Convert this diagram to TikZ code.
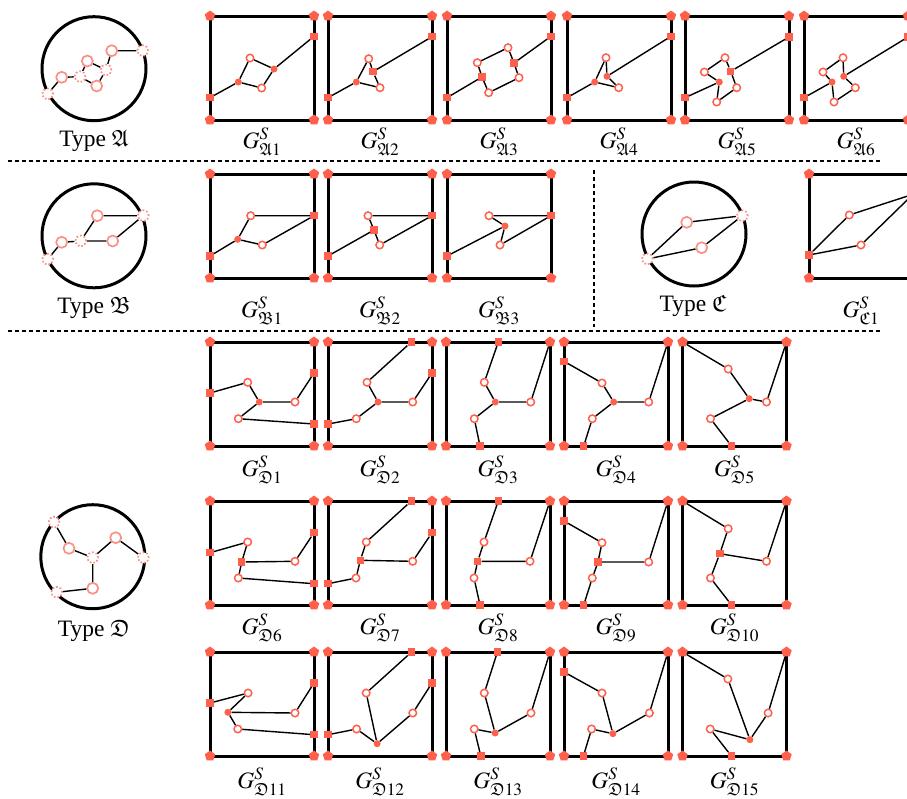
\documentclass[tikz,border=0pt]{standalone}
\usepackage{mathptmx}
\usepackage{amsfonts}
\usepackage{fontspec}
\setmainfont{Liberation Serif}
\usetikzlibrary{shapes.geometric}
\definecolor{tom}{RGB}{255,96,76}
\definecolor{sal}{RGB}{250,145,135}
\tikzset{
 crn/.style={regular polygon, regular polygon sides=5, fill=tom, inner sep=0pt, minimum size=11pt},
 trm/.style={rectangle, fill=tom, inner sep=0pt, minimum size=7.5pt},
 fcn/.style={circle, fill=tom, inner sep=0pt, minimum size=7pt},
 ocn/.style={circle, draw=tom, fill=white, line width=1.5pt, inner sep=0pt, minimum size=7.5pt},
 edg/.style={line width=1.4pt, black},
 frm/.style={line width=3pt, black, line join=miter},
 tcn/.style={circle, draw=sal, fill=white, line width=1.7pt, inner sep=0pt, minimum size=11pt},
 tdc/.style={tcn, dotted},
 bigc/.style={circle, draw=black, line width=3pt, inner sep=0pt, minimum size=104pt},
 lab/.style={anchor=base, inner sep=0pt, font=\fontsize{23.5}{28}\selectfont},
 dsh/.style={line width=1.3pt, dash pattern=on 4pt off 3pt},
}
\newcommand\gframe[1]{%
  \coordinate (#1-a) at (0,0);
  \coordinate (#1-b) at (104,0);
  \coordinate (#1-c) at (104,104);
  \coordinate (#1-d) at (0,104);
  \draw[frm] (#1-a) -- (#1-b) -- (#1-c) -- (#1-d) -- cycle;
  \node[crn] (#1-tl) at (0,0) {};
  \node[crn] (#1-tr) at (104,0) {};
  \node[crn] (#1-br) at (104,104) {};
  \node[crn] (#1-bl) at (0,104) {};
}
\begin{document}
\begin{tikzpicture}[x=1pt,y=-1pt]
\useasboundingbox (0,0) rectangle (907,798);
% ---------- separators
\coordinate (h1a) at (8,161); \coordinate (h1b) at (882,161);
\coordinate (h2a) at (8,331); \coordinate (h2b) at (882,331);
\coordinate (v1a) at (594,170); \coordinate (v1b) at (594,327);
\draw[dsh] (h1a) -- (h1b);
\draw[dsh] (h2a) -- (h2b);
\draw[dsh] (v1a) -- (v1b);
% ---------- Type A
\node[bigc] (TA) at (94,68.7) {};
\node[tdc] (TAd1) at (47.7,94) {};
\node[tcn] (TAo1) at (61.7,77.3) {};
\node[tdc] (TAd2) at (80,76.7) {};
\node[tcn] (TAo2) at (87.3,61) {};
\node[tcn] (TAo3) at (96.7,86) {};
\node[tdc] (TAd3) at (106,70) {};
\node[tcn] (TAo4) at (111.7,50.7) {};
\node[tdc] (TAd4) at (142.7,50.7) {};
\draw[edg] (TAd1)--(TAo1) (TAo1)--(TAd2) (TAd2)--(TAo2) (TAd2)--(TAo3) (TAo2)--(TAd3) (TAo3)--(TAd3) (TAd3)--(TAo4) (TAo4)--(TAd4);
\node[lab] (TAl) at (94,146.7) {Type $\mathfrak{A}$};
% ---------- Type B
\node[bigc] (TB) at (94,235.8) {};
\node[tdc] (TBd1) at (47.7,259.3) {};
\node[tcn] (TBo1) at (61.7,242.3) {};
\node[tdc] (TBd2) at (80.7,241) {};
\node[tcn] (TBo2) at (97.3,215.7) {};
\node[tcn] (TBo3) at (112.7,241) {};
\node[tdc] (TBd3) at (143.3,215.7) {};
\draw[edg] (TBd1)--(TBo1) (TBo1)--(TBd2) (TBd2)--(TBo2) (TBd2)--(TBo3) (TBo2)--(TBd3) (TBo3)--(TBd3);
\node[lab] (TBl) at (94,313) {Type $\mathfrak{B}$};
% ---------- Type C
\node[bigc] (TC) at (694,234) {};
\node[tdc] (TCd1) at (647.3,259) {};
\node[tdc] (TCd2) at (742.3,215.7) {};
\node[tcn] (TCo1) at (686.7,222.3) {};
\node[tcn] (TCo2) at (701.7,247.7) {};
\draw[edg] (TCd1)--(TCo1) (TCo1)--(TCd2) (TCd1)--(TCo2) (TCo2)--(TCd2);
\node[lab] (TCl) at (693,311.5) {Type $\mathfrak{C}$};
% ---------- Type D
\node[bigc] (TD) at (92.8,556.7) {};
\node[tdc] (TDd1) at (54,522.3) {};
\node[tcn] (TDo1) at (69,548.3) {};
\node[tdc] (TDdc) at (92.7,557.7) {};
\node[tcn] (TDo2) at (115.7,537.7) {};
\node[tdc] (TDd2) at (143.3,557.7) {};
\node[tcn] (TDo3) at (92.7,588.3) {};
\node[tdc] (TDd3) at (56.7,592.3) {};
\draw[edg] (TDd1)--(TDo1) (TDo1)--(TDdc) (TDdc)--(TDo2) (TDo2)--(TDd2) (TDdc)--(TDo3) (TDo3)--(TDd3);
\node[lab] (TDl) at (94,636) {Type $\mathfrak{D}$};
% ================= Row A
\begin{scope}[shift={(210,16)}]
\gframe{A1}
\node[trm] (A1L) at (0,81.7) {}; \node[trm] (A1R) at (104,20.3) {};
\node[fcn] (A1f1) at (28.3,66) {}; \node[ocn] (A1o1) at (40,42) {};
\node[ocn] (A1o2) at (51.7,72) {}; \node[fcn] (A1f2) at (64,53) {};
\draw[edg] (A1L)--(A1f1) (A1f1)--(A1o1) (A1f1)--(A1o2) (A1o1)--(A1f2) (A1o2)--(A1f2) (A1f2)--(A1R);
\node[lab] (A1lab) at (52,132) {$G^{S}_{\mathfrak{A}1}$};
\end{scope}
\begin{scope}[shift={(328,16)}]
\gframe{A2}
\node[trm] (A2L) at (0,81.7) {}; \node[trm] (A2R) at (104,20.7) {};
\node[fcn] (A2f1) at (28.3,66) {}; \node[ocn] (A2o1) at (40.7,42.7) {};
\node[ocn] (A2o2) at (52,71.7) {}; \node[trm] (A2s) at (45,55.7) {};
\draw[edg] (A2L)--(A2f1) (A2f1)--(A2o1) (A2f1)--(A2o2) (A2o1)--(A2s) (A2o2)--(A2s) (A2s)--(A2R);
\node[lab] (A2lab) at (52,132) {$G^{S}_{\mathfrak{A}2}$};
\end{scope}
\begin{scope}[shift={(447,16)}]
\gframe{A3}
\node[trm] (A3L) at (0,81.7) {}; \node[trm] (A3R) at (104,20.3) {};
\node[trm] (A3s1) at (35,61) {}; \node[ocn] (A3o1) at (30.3,46.7) {};
\node[ocn] (A3o2) at (41.7,76.7) {}; \node[ocn] (A3o3) at (61,31.7) {};
\node[ocn] (A3o4) at (72,61.7) {}; \node[trm] (A3s2) at (67,47) {};
\draw[edg] (A3L)--(A3s1) (A3s1)--(A3o1) (A3s1)--(A3o2) (A3o1)--(A3o3) (A3o3)--(A3s2) (A3s2)--(A3o4) (A3o4)--(A3o2) (A3s2)--(A3R);
\node[lab] (A3lab) at (52,132) {$G^{S}_{\mathfrak{A}3}$};
\end{scope}
\begin{scope}[shift={(567,16)}]
\gframe{A4}
\node[trm] (A4L) at (0,81.7) {}; \node[trm] (A4R) at (104,20.3) {};
\node[fcn] (A4f1) at (27.7,66) {}; \node[ocn] (A4o1) at (39,41.7) {};
\node[fcn] (A4f2) at (40,60.3) {}; \node[ocn] (A4o2) at (51.7,71.7) {};
\draw[edg] (A4L)--(A4f1) (A4f1)--(A4o1) (A4o1)--(A4f2) (A4f2)--(A4o2) (A4o2)--(A4f1) (A4f2)--(A4R);
\node[lab] (A4lab) at (52,132) {$G^{S}_{\mathfrak{A}4}$};
\end{scope}
\begin{scope}[shift={(685,16)}]
\gframe{A5}
\node[trm] (A5L) at (0,81.7) {}; \node[trm] (A5R) at (104,21) {};
\node[fcn] (A5f) at (34.3,66) {}; \node[ocn] (A5o1) at (19.3,56) {};
\node[ocn] (A5o2) at (40,41.7) {}; \node[trm] (A5s) at (45.7,55.3) {};
\node[ocn] (A5o3) at (51.7,71.7) {}; \node[ocn] (A5o4) at (31.7,86) {};
\draw[edg] (A5L)--(A5f) (A5f)--(A5o1) (A5o1)--(A5o2) (A5o2)--(A5s) (A5s)--(A5R) (A5s)--(A5o3) (A5o3)--(A5o4) (A5o4)--(A5f);
\node[lab] (A5lab) at (52,132) {$G^{S}_{\mathfrak{A}5}$};
\end{scope}
\begin{scope}[shift={(804,16)}]
\gframe{A6}
\node[trm] (A6L) at (0,81.7) {}; \node[trm] (A6R) at (104,21) {};
\node[fcn] (A6f1) at (28,66) {}; \node[ocn] (A6o1) at (19,56) {};
\node[ocn] (A6o2) at (39,41.7) {}; \node[fcn] (A6f2) at (39.7,60.3) {};
\node[ocn] (A6o3) at (51.3,71.7) {}; \node[ocn] (A6o4) at (30,86) {};
\draw[edg] (A6L)--(A6f1) (A6f1)--(A6o1) (A6o1)--(A6o2) (A6o2)--(A6f2) (A6f2)--(A6R) (A6f2)--(A6o3) (A6o3)--(A6o4) (A6o4)--(A6f1);
\node[lab] (A6lab) at (52,132) {$G^{S}_{\mathfrak{A}6}$};
\end{scope}
% ================= Row B
\begin{scope}[shift={(210,174)}]
\gframe{B1}
\node[trm] (B1L) at (0,82) {}; \node[trm] (B1R) at (104,41.7) {};
\node[fcn] (B1f) at (27.7,65.3) {}; \node[ocn] (B1o1) at (40.7,41.7) {};
\node[ocn] (B1o2) at (52.3,71) {};
\draw[edg] (B1L)--(B1f) (B1f)--(B1o1) (B1f)--(B1o2) (B1o1)--(B1R) (B1o2)--(B1R);
\node[lab] (B1lab) at (52,143) {$G^{S}_{\mathfrak{B}1}$};
\end{scope}
\begin{scope}[shift={(328,174)}]
\gframe{B2}
\node[trm] (B2L) at (0,82) {}; \node[trm] (B2R) at (104,41.7) {};
\node[trm] (B2s) at (46,56) {}; \node[ocn] (B2o1) at (40,41.7) {};
\node[ocn] (B2o2) at (51.7,71) {};
\draw[edg] (B2L)--(B2s) (B2s)--(B2o1) (B2s)--(B2o2) (B2o1)--(B2R) (B2o2)--(B2R);
\node[lab] (B2lab) at (52,143) {$G^{S}_{\mathfrak{B}2}$};
\end{scope}
\begin{scope}[shift={(447,174)}]
\gframe{B3}
\node[trm] (B3L) at (0,82) {}; \node[trm] (B3R) at (104,41.7) {};
\node[fcn] (B3f) at (58,52) {}; \node[ocn] (B3o1) at (42,41.7) {};
\node[ocn] (B3o2) at (53,71) {};
\draw[edg] (B3L)--(B3f) (B3f)--(B3o1) (B3f)--(B3o2) (B3o1)--(B3R) (B3o2)--(B3R);
\node[lab] (B3lab) at (52,143) {$G^{S}_{\mathfrak{B}3}$};
\end{scope}
% ================= Row C
\begin{scope}[shift={(809,174)}]
\gframe{C1}
\node[trm] (C1L) at (0,81) {}; \node[trm] (C1R) at (104,20.3) {};
\node[ocn] (C1o1) at (40.3,41) {}; \node[ocn] (C1o2) at (52,71) {};
\draw[edg] (C1L)--(C1o1) (C1o1)--(C1R) (C1L)--(C1o2) (C1o2)--(C1R);
\node[lab] (C1lab) at (52,143) {$G^{S}_{\mathfrak{C}1}$};
\end{scope}
% ================= Row D1
\begin{scope}[shift={(210,342)}]
\gframe{D1}
\node[trm] (D1L) at (0,51) {}; \node[ocn] (D1o1) at (37.7,40.3) {};
\node[fcn] (D1f) at (49.3,60) {}; \node[ocn] (D1o2) at (85,60) {};
\node[trm] (D1Rt) at (104,31) {}; \node[ocn] (D1o3) at (28.3,76.7) {};
\node[trm] (D1Rb) at (104,82) {};
\draw[edg] (D1L)--(D1o1) (D1o1)--(D1f) (D1f)--(D1o2) (D1o2)--(D1Rt) (D1f)--(D1o3) (D1o3)--(D1Rb);
\node[lab] (D1lab) at (52,134) {$G^{S}_{\mathfrak{D}1}$};
\end{scope}
\begin{scope}[shift={(328,342)}]
\gframe{D2}
\node[trm] (D2L) at (0,82) {}; \node[ocn] (D2o3) at (28.3,76.7) {};
\node[fcn] (D2f) at (50,60) {}; \node[ocn] (D2o1) at (39,40.3) {};
\node[trm] (D2T) at (83.3,0) {}; \node[ocn] (D2o2) at (84.7,60) {};
\node[trm] (D2R) at (104,31) {};
\draw[edg] (D2L)--(D2o3) (D2o3)--(D2f) (D2f)--(D2o1) (D2o1)--(D2T) (D2f)--(D2o2) (D2o2)--(D2R);
\node[lab] (D2lab) at (52,134) {$G^{S}_{\mathfrak{D}2}$};
\end{scope}
\begin{scope}[shift={(446,342)}]
\gframe{D3}
\node[trm] (D3T) at (52.3,0) {}; \node[ocn] (D3o1) at (38.3,40.3) {};
\node[fcn] (D3f) at (49.3,60) {}; \node[ocn] (D3o2) at (84.7,60) {};
\node[ocn] (D3o3) at (28.3,76.7) {}; \node[trm] (D3B) at (34,104) {};
\draw[edg] (D3T)--(D3o1) (D3o1)--(D3f) (D3f)--(D3o2) (D3o2)--(D3-tr) (D3f)--(D3o3) (D3o3)--(D3B);
\node[lab] (D3lab) at (52,134) {$G^{S}_{\mathfrak{D}3}$};
\end{scope}
\begin{scope}[shift={(564,342)}]
\gframe{D4}
\node[trm] (D4L) at (0,19.3) {}; \node[ocn] (D4o1) at (38,41) {};
\node[fcn] (D4f) at (49.7,60) {}; \node[ocn] (D4o2) at (84.7,60) {};
\node[ocn] (D4o3) at (28.3,76.7) {}; \node[trm] (D4B) at (19.7,104) {};
\draw[edg] (D4L)--(D4o1) (D4o1)--(D4f) (D4f)--(D4o2) (D4o2)--(D4-tr) (D4f)--(D4o3) (D4o3)--(D4B);
\node[lab] (D4lab) at (52,134) {$G^{S}_{\mathfrak{D}4}$};
\end{scope}
\begin{scope}[shift={(682.5,342)}]
\gframe{D5}
\node[ocn] (D5o1) at (45.7,27) {};
\node[fcn] (D5f) at (66.7,56.7) {}; \node[ocn] (D5o2) at (84,60) {};
\node[ocn] (D5o3) at (28,76.7) {}; \node[trm] (D5B) at (49,104) {};
\draw[edg] (D5-tl)--(D5o1) (D5o1)--(D5f) (D5f)--(D5o2) (D5o2)--(D5-tr) (D5f)--(D5o3) (D5o3)--(D5B);
\node[lab] (D5lab) at (52,134) {$G^{S}_{\mathfrak{D}5}$};
\end{scope}
% ================= Row D2
\begin{scope}[shift={(210,501)}]
\gframe{D6}
\node[trm] (D6L) at (0,51.7) {}; \node[ocn] (D6o1) at (37.7,41) {};
\node[trm] (D6s) at (31.7,61) {}; \node[ocn] (D6o2) at (85,60.3) {};
\node[trm] (D6Rt) at (104,31.7) {}; \node[ocn] (D6o3) at (28.3,77) {};
\node[trm] (D6Rb) at (104,82.7) {};
\draw[edg] (D6L)--(D6o1) (D6o1)--(D6s) (D6s)--(D6o2) (D6o2)--(D6Rt) (D6s)--(D6o3) (D6o3)--(D6Rb);
\node[lab] (D6lab) at (52,133) {$G^{S}_{\mathfrak{D}6}$};
\end{scope}
\begin{scope}[shift={(328,501)}]
\gframe{D7}
\node[trm] (D7L) at (0,82.7) {}; \node[ocn] (D7o3) at (28,77) {};
\node[trm] (D7s) at (32.3,59.3) {}; \node[ocn] (D7o1) at (38.3,41) {};
\node[trm] (D7T) at (83.3,0) {}; \node[ocn] (D7o2) at (84.7,60.3) {};
\node[trm] (D7R) at (104,31.7) {};
\draw[edg] (D7L)--(D7o3) (D7o3)--(D7s) (D7s)--(D7o1) (D7o1)--(D7T) (D7s)--(D7o2) (D7o2)--(D7R);
\node[lab] (D7lab) at (52,133) {$G^{S}_{\mathfrak{D}7}$};
\end{scope}
\begin{scope}[shift={(446,501)}]
\gframe{D8}
\node[trm] (D8T) at (52.3,0) {}; \node[ocn] (D8o1) at (38,41) {};
\node[trm] (D8s) at (31.7,60.3) {}; \node[ocn] (D8o2) at (84,60.3) {};
\node[ocn] (D8o3) at (28,77) {}; \node[trm] (D8B) at (34,104) {};
\draw[edg] (D8T)--(D8o1) (D8o1)--(D8s) (D8s)--(D8o2) (D8o2)--(D8-tr) (D8s)--(D8o3) (D8o3)--(D8B);
\node[lab] (D8lab) at (52,133) {$G^{S}_{\mathfrak{D}8}$};
\end{scope}
\begin{scope}[shift={(564,501)}]
\gframe{D9}
\node[trm] (D9L) at (0,20) {}; \node[ocn] (D9o1) at (38,41.7) {};
\node[trm] (D9s) at (34,61) {}; \node[ocn] (D9o2) at (84.7,61) {};
\node[ocn] (D9o3) at (28.3,77) {}; \node[trm] (D9B) at (19.7,104) {};
\draw[edg] (D9L)--(D9o1) (D9o1)--(D9s) (D9s)--(D9o2) (D9o2)--(D9-tr) (D9s)--(D9o3) (D9o3)--(D9B);
\node[lab] (D9lab) at (52,133) {$G^{S}_{\mathfrak{D}9}$};
\end{scope}
\begin{scope}[shift={(682.5,501)}]
\gframe{D10}
\node[ocn] (D10o1) at (45.7,27.7) {};
\node[trm] (D10s) at (37.3,52.7) {}; \node[ocn] (D10o2) at (84,60.3) {};
\node[ocn] (D10o3) at (28,77) {}; \node[trm] (D10B) at (49,104) {};
\draw[edg] (D10-tl)--(D10o1) (D10o1)--(D10s) (D10s)--(D10o2) (D10o2)--(D10-tr) (D10s)--(D10o3) (D10o3)--(D10B);
\node[lab] (D10lab) at (52,133) {$G^{S}_{\mathfrak{D}10}$};
\end{scope}
% ================= Row D3
\begin{scope}[shift={(210,652)}]
\gframe{D11}
\node[trm] (D11L) at (0,51) {}; \node[ocn] (D11o1) at (38.1,41) {};
\node[fcn] (D11f) at (17.9,60.3) {}; \node[ocn] (D11o2) at (85,61) {};
\node[trm] (D11Rt) at (104,31) {}; \node[ocn] (D11o3) at (27.8,77) {};
\node[trm] (D11Rb) at (104,82.7) {};
\draw[edg] (D11L)--(D11o1) (D11o1)--(D11f) (D11f)--(D11o2) (D11o2)--(D11Rt) (D11f)--(D11o3) (D11o3)--(D11Rb);
\node[lab] (D11lab) at (52,136) {$G^{S}_{\mathfrak{D}11}$};
\end{scope}
\begin{scope}[shift={(328,652)}]
\gframe{D12}
\node[trm] (D12L) at (0,82.7) {}; \node[ocn] (D12o3) at (28.6,77) {};
\node[fcn] (D12f) at (49.1,91.7) {}; \node[ocn] (D12o1) at (38.2,41) {};
\node[trm] (D12T) at (83.6,0) {}; \node[ocn] (D12o2) at (84.8,61) {};
\node[trm] (D12R) at (104,31) {};
\draw[edg] (D12L)--(D12o3) (D12o3)--(D12f) (D12f)--(D12o1) (D12o1)--(D12T) (D12f)--(D12o2) (D12o2)--(D12R);
\node[lab] (D12lab) at (52,136) {$G^{S}_{\mathfrak{D}12}$};
\end{scope}
\begin{scope}[shift={(446,652)}]
\gframe{D13}
\node[trm] (D13T) at (51.4,0) {}; \node[ocn] (D13o1) at (38.3,41) {};
\node[fcn] (D13f) at (49.1,81) {}; \node[ocn] (D13o2) at (85,61) {};
\node[ocn] (D13o3) at (28.2,77) {}; \node[trm] (D13B) at (34.8,104) {};
\draw[edg] (D13T)--(D13o1) (D13o1)--(D13f) (D13f)--(D13o2) (D13o2)--(D13-tr) (D13f)--(D13o3) (D13o3)--(D13B);
\node[lab] (D13lab) at (52,136) {$G^{S}_{\mathfrak{D}13}$};
\end{scope}
\begin{scope}[shift={(564,652)}]
\gframe{D14}
\node[trm] (D14L) at (0,20) {}; \node[ocn] (D14o1) at (38,41) {};
\node[fcn] (D14f) at (48.9,81.7) {}; \node[ocn] (D14o2) at (85.4,61) {};
\node[ocn] (D14o3) at (27.6,77) {}; \node[trm] (D14B) at (19.4,104) {};
\draw[edg] (D14L)--(D14o1) (D14o1)--(D14f) (D14f)--(D14o2) (D14o2)--(D14-tr) (D14f)--(D14o3) (D14o3)--(D14B);
\node[lab] (D14lab) at (52,136) {$G^{S}_{\mathfrak{D}14}$};
\end{scope}
\begin{scope}[shift={(682.5,652)}]
\gframe{D15}
\node[ocn] (D15o1) at (45.4,27) {};
\node[fcn] (D15f) at (67.4,87.7) {}; \node[ocn] (D15o2) at (85.6,61) {};
\node[ocn] (D15o3) at (27.7,77) {}; \node[trm] (D15B) at (48.9,104) {};
\draw[edg] (D15-tl)--(D15o1) (D15o1)--(D15f) (D15f)--(D15o2) (D15o2)--(D15-tr) (D15f)--(D15o3) (D15o3)--(D15B);
\node[lab] (D15lab) at (52,136) {$G^{S}_{\mathfrak{D}15}$};
\end{scope}
\end{tikzpicture}
\end{document}
